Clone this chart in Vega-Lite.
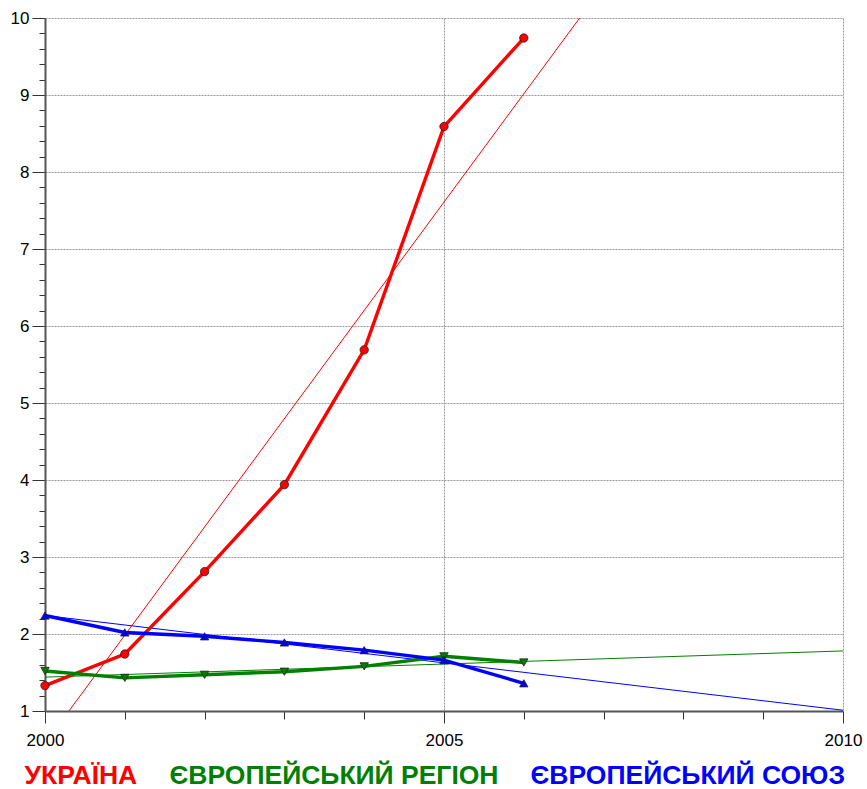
{
  "$schema": "https://vega.github.io/schema/vega-lite/v6.json",
  "autosize": "none",
  "width": 798,
  "height": 693,
  "padding": {"left": 45, "top": 18, "right": 24, "bottom": 78},
  "background": "white",
  "config": {
    "view": {"stroke": null},
    "font": "Liberation Sans"
  },
  "datasets": {
    "obs": [
      {"series": "УКРАЇНА", "year": 2000, "value": 1.33},
      {"series": "УКРАЇНА", "year": 2001, "value": 1.74},
      {"series": "УКРАЇНА", "year": 2002, "value": 2.81},
      {"series": "УКРАЇНА", "year": 2003, "value": 3.94},
      {"series": "УКРАЇНА", "year": 2004, "value": 5.69},
      {"series": "УКРАЇНА", "year": 2005, "value": 8.59},
      {"series": "УКРАЇНА", "year": 2006, "value": 9.74},
      {"series": "ЄВРОПЕЙСЬКИЙ РЕГІОН", "year": 2000, "value": 1.52},
      {"series": "ЄВРОПЕЙСЬКИЙ РЕГІОН", "year": 2001, "value": 1.43},
      {"series": "ЄВРОПЕЙСЬКИЙ РЕГІОН", "year": 2002, "value": 1.47},
      {"series": "ЄВРОПЕЙСЬКИЙ РЕГІОН", "year": 2003, "value": 1.51},
      {"series": "ЄВРОПЕЙСЬКИЙ РЕГІОН", "year": 2004, "value": 1.58},
      {"series": "ЄВРОПЕЙСЬКИЙ РЕГІОН", "year": 2005, "value": 1.71},
      {"series": "ЄВРОПЕЙСЬКИЙ РЕГІОН", "year": 2006, "value": 1.63},
      {"series": "ЄВРОПЕЙСЬКИЙ СОЮЗ", "year": 2000, "value": 2.24},
      {"series": "ЄВРОПЕЙСЬКИЙ СОЮЗ", "year": 2001, "value": 2.02},
      {"series": "ЄВРОПЕЙСЬКИЙ СОЮЗ", "year": 2002, "value": 1.97},
      {"series": "ЄВРОПЕЙСЬКИЙ СОЮЗ", "year": 2003, "value": 1.89},
      {"series": "ЄВРОПЕЙСЬКИЙ СОЮЗ", "year": 2004, "value": 1.79},
      {"series": "ЄВРОПЕЙСЬКИЙ СОЮЗ", "year": 2005, "value": 1.66},
      {"series": "ЄВРОПЕЙСЬКИЙ СОЮЗ", "year": 2006, "value": 1.36}
    ],
    "trend": [
      {"series": "УКРАЇНА", "year": 2000.3, "value": 1},
      {"series": "УКРАЇНА", "year": 2006.7, "value": 10},
      {"series": "ЄВРОПЕЙСЬКИЙ РЕГІОН", "year": 2000, "value": 1.44},
      {"series": "ЄВРОПЕЙСЬКИЙ РЕГІОН", "year": 2010, "value": 1.78},
      {"series": "ЄВРОПЕЙСЬКИЙ СОЮЗ", "year": 2000, "value": 2.24},
      {"series": "ЄВРОПЕЙСЬКИЙ СОЮЗ", "year": 2010, "value": 1.01}
    ]
  },
  "encoding": {
    "x": {
      "field": "year", "type": "quantitative",
      "scale": {"domain": [2000, 2010], "nice": false, "zero": false},
      "axis": {
        "title": null,
        "values": [2000, 2001, 2002, 2003, 2004, 2005, 2006, 2007, 2008, 2009, 2010],
        "format": "d",
        "labelExpr": "datum.value % 5 == 0 ? datum.label : ''",
        "labelFlush": false,
        "labelOverlap": false,
        "labelFont": "Liberation Sans",
        "labelFontSize": 17,
        "labelColor": "#000000",
        "labelPadding": 9,
        "tickSize": {"condition": {"test": "datum.value % 5 == 0", "value": 12}, "value": 8},
        "tickColor": "#333333",
        "tickWidth": 1,
        "domainColor": "#555555",
        "domainWidth": 2,
        "grid": true,
        "gridColor": "#999999",
        "gridDash": [2, 1],
        "gridOpacity": {"condition": {"test": "datum.value == 2005 || datum.value == 2010", "value": 1}, "value": 0}
      }
    },
    "y": {
      "field": "value", "type": "quantitative",
      "scale": {"domain": [1, 10], "nice": false, "zero": false},
      "axis": {
        "title": null,
        "values": [1, 1.2, 1.4, 1.6, 1.8, 2, 2.2, 2.4, 2.6, 2.8, 3, 3.2, 3.4, 3.6, 3.8, 4, 4.2, 4.4, 4.6, 4.8, 5, 5.2, 5.4, 5.6, 5.8, 6, 6.2, 6.4, 6.6, 6.8, 7, 7.2, 7.4, 7.6, 7.8, 8, 8.2, 8.4, 8.6, 8.8, 9, 9.2, 9.4, 9.6, 9.8, 10],
        "labelExpr": "datum.value % 1 == 0 ? format(datum.value, 'd') : ''",
        "labelFlush": false,
        "labelOverlap": false,
        "labelFont": "Liberation Sans",
        "labelFontSize": 17,
        "labelColor": "#000000",
        "labelPadding": 3,
        "tickSize": {"condition": {"test": "datum.value % 1 == 0", "value": 13}, "value": 6},
        "tickColor": "#333333",
        "tickWidth": 1,
        "domainColor": "#555555",
        "domainWidth": 2,
        "grid": true,
        "gridColor": "#999999",
        "gridDash": [2, 1],
        "gridOpacity": {"condition": {"test": "datum.value % 1 == 0", "value": 1}, "value": 0}
      }
    },
    "color": {
      "field": "series", "type": "nominal",
      "scale": {
        "domain": ["УКРАЇНА", "ЄВРОПЕЙСЬКИЙ РЕГІОН", "ЄВРОПЕЙСЬКИЙ СОЮЗ"],
        "range": ["#ff0000", "#008000", "#0000ff"]
      },
      "legend": {
        "title": null,
        "orient": "none",
        "legendX": -47,
        "legendY": 745,
        "direction": "horizontal",
        "symbolType": "circle",
        "symbolSize": 1,
        "symbolOpacity": 0,
        "symbolStrokeWidth": 0,
        "labelOffset": 0,
        "columnPadding": 5,
        "padding": 0,
        "labelFont": "Liberation Sans",
        "labelFontSize": 26.5,
        "labelFontWeight": "bold",
        "labelLimit": 0,
        "labelColor": {"expr": "datum.value == 'УКРАЇНА' ? '#ff0000' : (datum.value == 'ЄВРОПЕЙСЬКИЙ РЕГІОН' ? '#008000' : '#0000ff')"}
      }
    }
  },
  "layer": [
    {
      "data": {"name": "trend"},
      "mark": {"type": "line", "strokeWidth": 1, "clip": true},
      "encoding": {"detail": {"field": "series"}}
    },
    {
      "data": {"name": "obs"},
      "mark": {"type": "line", "strokeWidth": 3.4},
      "encoding": {"detail": {"field": "series"}}
    },
    {
      "data": {"name": "obs"},
      "mark": {"type": "point", "filled": true, "opacity": 1, "size": 70, "stroke": "#202020", "strokeWidth": 0.8},
      "encoding": {
        "shape": {
          "field": "series", "type": "nominal",
          "scale": {
            "domain": ["УКРАЇНА", "ЄВРОПЕЙСЬКИЙ РЕГІОН", "ЄВРОПЕЙСЬКИЙ СОЮЗ"],
            "range": ["circle", "triangle-down", "triangle-up"]
          },
          "legend": null
        }
      }
    }
  ]
}
